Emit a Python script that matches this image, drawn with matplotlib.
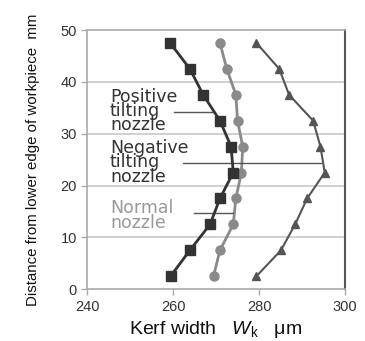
import matplotlib
matplotlib.use("Agg")
import matplotlib.pyplot as plt

depth = [2.5, 7.5, 12.5, 17.5, 22.5, 27.5, 32.5, 37.5, 42.5, 47.5]
positive = [259.4, 263.9, 268.6, 270.9, 274.0, 273.5, 270.9, 267.0, 263.9, 259.3]
normal = [269.4, 270.9, 274.0, 274.6, 275.9, 276.2, 275.0, 274.6, 272.5, 270.9]
negative = [279.4, 285.1, 288.4, 291.2, 295.3, 294.3, 292.6, 287.0, 284.7, 279.4]
xticks = [240, 260, 280, 300]
yticks = [0, 10, 20, 30, 40, 50]

plt.rcParams['font.family'] = ['Liberation Sans', 'DejaVu Sans']
plt.rcParams['mathtext.fontset'] = 'custom'
plt.rcParams['mathtext.rm'] = 'Liberation Sans'
plt.rcParams['mathtext.it'] = 'Liberation Sans:italic'

fig = plt.figure(figsize=(3.65, 3.41), dpi=100)
ax = fig.add_axes([0.239, 0.152, 0.706, 0.760])

ax.set_xlim(240, 300)
ax.set_ylim(0, 50)
ax.set_xticks(xticks)
ax.set_yticks(yticks)
for y in yticks[1:-1]:
    ax.axhline(y, color='#c8c8c8', lw=1.2, zorder=0)

ax.plot(positive, depth, color='#333333', lw=2, marker='s', ms=7, zorder=3)
ax.plot(normal, depth, color='#8a8a8a', lw=2, marker='o', ms=6.5, zorder=2)
ax.plot(negative, depth, color='#555555', lw=1.5, marker='^', ms=6, zorder=2)

for s in ['left', 'top', 'bottom']:
    ax.spines[s].set_color('#aaaaaa')
    ax.spines[s].set_linewidth(1.2)
ax.spines['right'].set_color('#555555')
ax.spines['right'].set_linewidth(1.5)
ax.tick_params(axis='both', colors='#aaaaaa', length=4, width=1, labelsize=10.5,
               labelcolor='#333333', direction='out')

tprops = dict(fontsize=12.5, linespacing=0.72, va='top', ha='left',
              family=['DejaVu Sans'])
ax.text(245.3, 38.8, 'Positive\ntilting\nnozzle', color='#333333', **tprops)
ax.text(245.3, 28.9, 'Negative\ntilting\nnozzle', color='#333333', **tprops)
ax.text(245.3, 17.3, 'Normal\nnozzle', color='#999999', **tprops)
ax.plot([260.2, 269.5], [34.2, 34.2], color='#555555', lw=1)
ax.plot([262.2, 294.5], [24.4, 24.4], color='#555555', lw=1)
ax.plot([264.8, 274.0], [14.7, 14.7], color='#555555', lw=1)

ax.set_xlabel('Kerf width   $\\mathit{W}_{\\mathrm{k}}$   μm', fontsize=14, color='#111111', labelpad=4)
ax.set_ylabel('Distance from lower edge of workpiece  mm', fontsize=10.8,
              color='#111111', labelpad=15)

fig.savefig('out.png', dpi=100)
